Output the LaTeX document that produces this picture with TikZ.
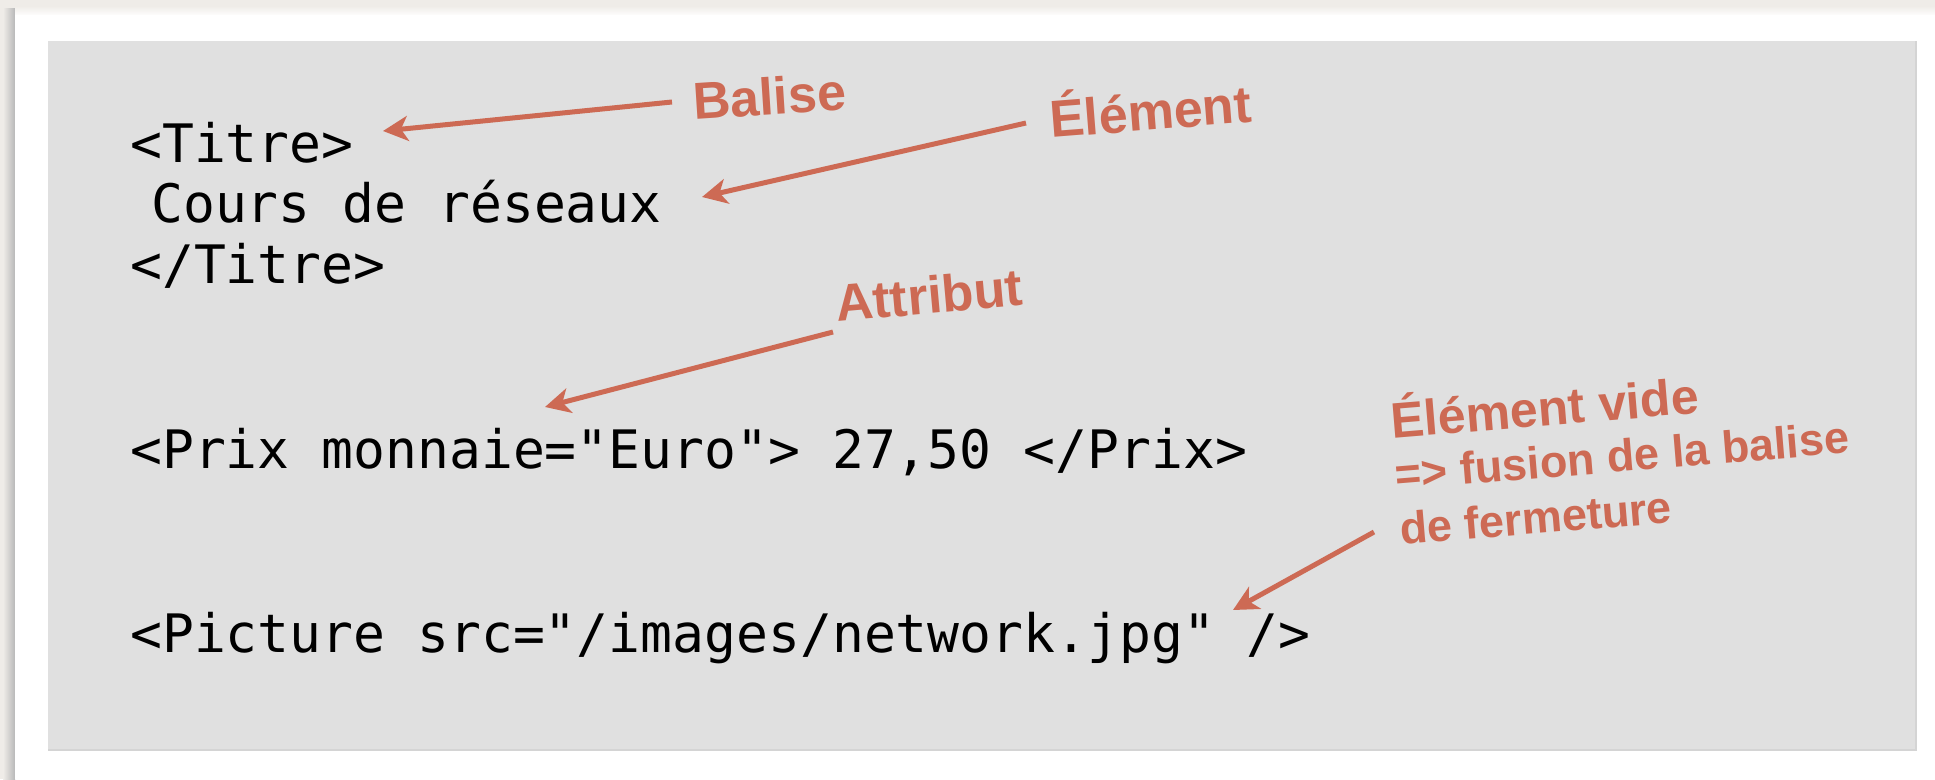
\documentclass[tikz,border=0pt]{standalone}
\usepackage{fontspec}
\setmainfont{Liberation Sans}
\setmonofont{DejaVu Sans Mono}
\usetikzlibrary{arrows.meta}
\definecolor{lab}{RGB}{205,106,84}
\definecolor{codebg}{RGB}{224,224,224}
\definecolor{outerbg}{RGB}{239,236,232}
\begin{document}
\begin{tikzpicture}[x=1pt,y=-1pt,
  code/.style={anchor=base west, inner sep=0pt, font=\fontsize{53}{60}\selectfont\ttfamily},
  lbl/.style={anchor=base west, inner sep=0pt, text=lab, font=\fontsize{52}{60}\selectfont\bfseries},
  arr/.style={draw=lab, line width=5pt, -{Stealth[length=25pt,width=25pt,inset=7pt]}}]
\useasboundingbox (0,0) rectangle (1935,779);
\fill[outerbg] (0,0) rectangle (1935,779);
\shade[left color=outerbg, right color=black!28] (3,8) rectangle (15,779);
\shade[top color=outerbg, bottom color=white] (15,6) rectangle (1935,16);
\fill[white] (15,15) rectangle (1935,779);
\fill[codebg] (48,41) rectangle (1916,750);
\draw[black!17, line width=1.5pt] (48,750) -- (1916,750) -- (1916,41);

% code lines
\node[code] (titre)  at (130,162) {<Titre>};
\node[code] (cours)  at (151,222) {Cours de réseaux};
\node[code] (titref) at (130,283) {</Titre>};
\node[code] (prix)   at (130,468) {<Prix monnaie="Euro"> 27,50 </Prix>};
\node[code] (pict)   at (130,652) {<Picture src="/images/network.jpg" />};

% labels
\node[lbl, rotate=3.7] (balise)   at (694,120) {Balise};
\node[lbl, rotate=4.5] (element)  at (1051,138) {Élément};
\node[lbl, rotate=5.1] (attribut) at (837,322) {Attribut};
\node[lbl, rotate=4.7, align=left, font=\fontsize{50}{52}\selectfont\bfseries] (vide) at (1401,545)
  {Élément vide\\
   \fontsize{45}{52}\selectfont => fusion de la balise\\[3pt]
   \fontsize{45}{52}\selectfont de fermeture};

% arrow ends
\coordinate (baliseS) at (672,102);
\coordinate (baliseT) at (383,131);
\coordinate (elemS) at (1026,123);
\coordinate (elemT) at (702,197);
\coordinate (attrS) at (833,332);
\coordinate (attrT) at (545,407);
\coordinate (videS) at (1374,532);
\coordinate (videT) at (1233,610);

\draw[arr] (baliseS) -- (baliseT);
\draw[arr] (elemS) -- (elemT);
\draw[arr] (attrS) -- (attrT);
\draw[arr] (videS) -- (videT);
\end{tikzpicture}
\end{document}
